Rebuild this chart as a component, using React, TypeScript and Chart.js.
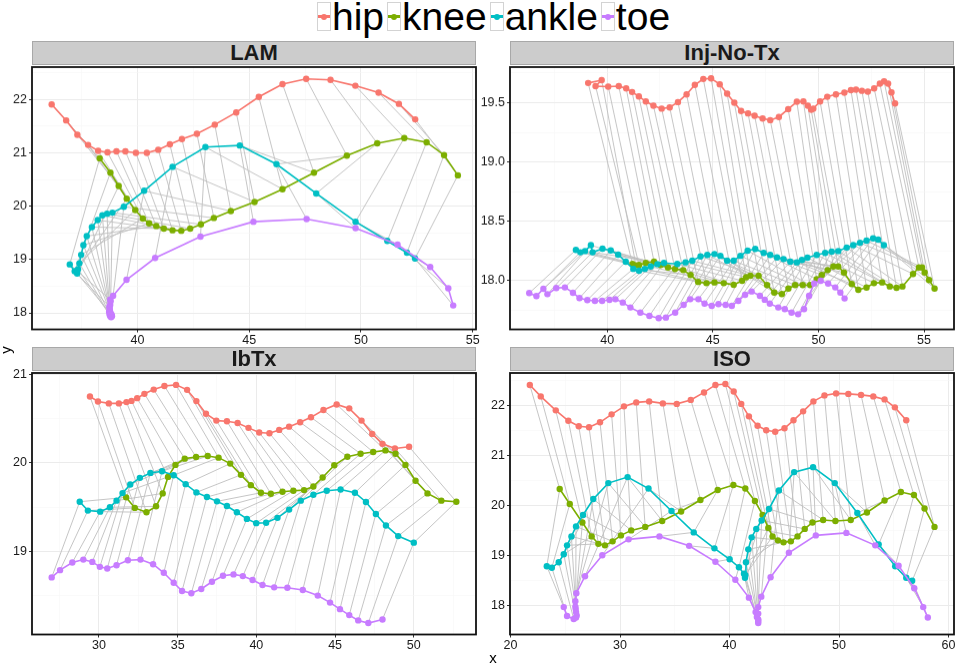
import { useEffect, useRef } from "react";
import { Chart, registerables } from "chart.js";

Chart.register(...registerables);

type Pt = [number, number];

// ── Series ────────────────────────────────────────────────────────────────
const SERIES = ["hip", "knee", "ankle", "toe"];
const COLORS = ["#F8766D", "#7CAE00", "#00BFC4", "#C77CFF"];
const STICK_COLOR = "#BEBEBE";
const FONT = "'Liberation Sans', Arial, Helvetica, sans-serif";

// ── LAM ───────────────────────────────────────────────────────────────────
const LAM_HIP: Pt[] = [
  [36.16, 21.91], [36.81, 21.61], [37.31, 21.34], [37.79, 21.15], [38.24, 21.04], [38.66, 21.01],
  [39.06, 21.03], [39.46, 21.03], [39.93, 21.0], [40.42, 21.0], [40.93, 21.06], [41.45, 21.16],
  [41.99, 21.26], [42.66, 21.36], [43.46, 21.53], [44.42, 21.76], [45.43, 22.05], [46.49, 22.29],
  [47.55, 22.39], [48.64, 22.37], [49.75, 22.26], [50.79, 22.13], [51.7, 21.92], [52.43, 21.63],
];
const LAM_KNEE: Pt[] = [
  [38.31, 20.9], [38.79, 20.63], [39.16, 20.38], [39.52, 20.14], [39.9, 19.93], [40.24, 19.77],
  [40.52, 19.68], [40.84, 19.63], [41.18, 19.58], [41.57, 19.55], [41.96, 19.54], [42.36, 19.58],
  [42.84, 19.66], [43.42, 19.78], [44.18, 19.91], [45.24, 20.08], [46.49, 20.32], [47.9, 20.63],
  [49.37, 20.95], [50.73, 21.18], [51.94, 21.28], [52.94, 21.2], [53.72, 20.96], [54.34, 20.58],
];
const LAM_ANKLE: Pt[] = [
  [36.97, 18.91], [37.19, 18.78], [37.3, 18.74], [37.34, 18.82], [37.4, 18.93], [37.48, 19.09],
  [37.58, 19.27], [37.73, 19.44], [37.96, 19.61], [38.22, 19.74], [38.43, 19.83], [38.64, 19.86],
  [38.88, 19.88], [39.39, 19.99], [40.3, 20.29], [41.57, 20.74], [43.04, 21.11], [44.58, 21.14],
  [46.22, 20.79], [48.0, 20.24], [49.76, 19.71], [51.18, 19.35], [52.06, 19.13], [52.42, 19.02],
];
const LAM_TOE: Pt[] = [
  [38.78, 18.25], [38.74, 18.12], [38.73, 18.02], [38.75, 17.97], [38.78, 17.94], [38.82, 17.92],
  [38.86, 17.94], [38.84, 17.97], [38.8, 17.99], [38.77, 18.03], [38.76, 18.08], [38.78, 18.15],
  [38.8, 18.22], [38.91, 18.32], [39.51, 18.62], [40.79, 19.03], [42.82, 19.43], [45.19, 19.71],
  [47.57, 19.76], [49.76, 19.59], [51.64, 19.28], [53.1, 18.86], [53.91, 18.46], [54.13, 18.14],
];
const LAM_X_RANGE = [35.28, 55.15];
const LAM_Y_RANGE = [17.69, 22.61];
const LAM_X_TICKS = [40, 45, 50, 55];
const LAM_Y_TICKS = [18, 19, 20, 21, 22];

// ── Inj-No-Tx ─────────────────────────────────────────────────────────────
const INJ_HIP: Pt[] = [
  [39.1, 19.666], [39.74, 19.69], [39.45, 19.64], [40.05, 19.635], [40.55, 19.64], [40.9, 19.62],
  [41.18, 19.59], [41.5, 19.553], [41.83, 19.51], [42.19, 19.475], [42.58, 19.45], [42.96, 19.46],
  [43.35, 19.505], [43.76, 19.57], [44.15, 19.65], [44.55, 19.7], [44.92, 19.705], [45.33, 19.655],
  [45.68, 19.576], [46.02, 19.5], [46.34, 19.43], [46.67, 19.41], [46.98, 19.39], [47.36, 19.367],
  [47.72, 19.353], [48.13, 19.38], [48.57, 19.446], [48.98, 19.508], [49.29, 19.51], [49.5, 19.475],
  [49.66, 19.44], [49.76, 19.45], [50.08, 19.51], [50.42, 19.55], [50.83, 19.57], [51.23, 19.585],
  [51.54, 19.606], [51.78, 19.61], [52.06, 19.6], [52.34, 19.593], [52.64, 19.62], [52.91, 19.66],
  [53.11, 19.68], [53.3, 19.66], [53.46, 19.587], [53.63, 19.494],
];
const INJ_KNEE: Pt[] = [
  [41.2, 18.141], [41.36, 18.13], [41.51, 18.133], [41.83, 18.15], [42.22, 18.16], [42.53, 18.133],
  [42.88, 18.112], [43.21, 18.099], [43.6, 18.09], [43.95, 18.048], [44.31, 17.99], [44.7, 17.98],
  [45.08, 17.986], [45.52, 17.98], [45.99, 17.966], [46.39, 18.0], [46.58, 18.03], [46.78, 18.042],
  [47.17, 18.042], [47.57, 17.964], [47.91, 17.9], [48.27, 17.888], [48.58, 17.935], [48.9, 17.964],
  [49.26, 17.964], [49.61, 17.964], [49.92, 18.014], [50.16, 18.048], [50.44, 18.09], [50.71, 18.12],
  [50.94, 18.12], [51.21, 18.07], [51.58, 17.972], [51.89, 17.924], [52.28, 17.943], [52.63, 17.98],
  [53.02, 17.986], [53.38, 17.952], [53.7, 17.941], [53.98, 17.952], [54.48, 18.057], [54.76, 18.112],
  [54.91, 18.112], [55.03, 18.07], [55.24, 18.006], [55.5, 17.935],
];
const INJ_ANKLE: Pt[] = [
  [38.52, 18.26], [38.73, 18.24], [38.95, 18.25], [39.23, 18.3], [39.31, 18.24], [39.78, 18.27],
  [40.17, 18.256], [40.52, 18.22], [40.88, 18.16], [41.24, 18.1], [41.51, 18.084], [41.78, 18.1],
  [42.06, 18.12], [42.38, 18.14], [42.69, 18.15], [43.32, 18.141], [43.71, 18.155], [44.03, 18.169],
  [44.42, 18.205], [44.74, 18.217], [45.08, 18.225], [45.36, 18.21], [45.68, 18.169], [45.99, 18.169],
  [46.31, 18.21], [46.65, 18.253], [47.01, 18.268], [47.41, 18.234], [47.72, 18.217], [48.04, 18.197],
  [48.35, 18.183], [48.67, 18.16], [48.98, 18.155], [49.22, 18.175], [49.48, 18.194], [49.92, 18.217],
  [50.32, 18.234], [50.63, 18.245], [50.94, 18.25], [51.34, 18.28], [51.65, 18.3], [51.97, 18.32],
  [52.28, 18.338], [52.59, 18.357], [52.83, 18.346], [53.1, 18.3],
];
const INJ_TOE: Pt[] = [
  [36.31, 17.896], [36.65, 17.871], [36.98, 17.932], [37.17, 17.887], [37.59, 17.938], [38.0, 17.944],
  [38.38, 17.899], [38.69, 17.854], [39.06, 17.837], [39.42, 17.831], [39.76, 17.831], [40.11, 17.839],
  [40.39, 17.845], [40.74, 17.817], [41.1, 17.775], [41.57, 17.732], [42.0, 17.704], [42.44, 17.685],
  [42.78, 17.69], [43.22, 17.732], [43.62, 17.797], [43.93, 17.845], [44.32, 17.845], [44.61, 17.808],
  [44.95, 17.789], [45.27, 17.803], [45.61, 17.797], [45.9, 17.789], [46.21, 17.831], [46.53, 17.882],
  [46.84, 17.91], [47.23, 17.873], [47.46, 17.84], [47.7, 17.808], [48.1, 17.775], [48.41, 17.761],
  [48.73, 17.732], [49.04, 17.718], [49.32, 17.761], [49.56, 17.873], [49.8, 17.977], [50.11, 18.0],
  [50.46, 17.977], [50.8, 17.944], [51.04, 17.901], [51.24, 17.851],
];
const INJ_X_RANGE = [35.4, 56.42];
const INJ_Y_RANGE = [17.59, 19.8];
const INJ_X_TICKS = [40, 45, 50, 55];
const INJ_Y_TICKS = [18.0, 18.5, 19.0, 19.5];

// ── IbTx ──────────────────────────────────────────────────────────────────
const IBTX_HIP: Pt[] = [
  [29.43, 20.75], [29.94, 20.694], [30.63, 20.672], [31.27, 20.672], [31.75, 20.687], [32.07, 20.7],
  [32.43, 20.731], [32.89, 20.78], [33.48, 20.828], [34.16, 20.869], [34.9, 20.881], [35.6, 20.825],
  [36.19, 20.698], [36.8, 20.556], [37.46, 20.478], [38.13, 20.47], [38.81, 20.451], [39.5, 20.396],
  [40.18, 20.343], [40.83, 20.336], [41.45, 20.373], [42.08, 20.41], [42.78, 20.459], [43.47, 20.515],
  [44.26, 20.597], [45.1, 20.66], [45.9, 20.616], [46.68, 20.478], [47.36, 20.328], [48.01, 20.216],
  [48.8, 20.164], [49.7, 20.183],
];
const IBTX_KNEE: Pt[] = [
  [31.73, 19.612], [32.28, 19.493], [33.02, 19.444], [33.63, 19.511], [34.05, 19.657], [34.39, 19.843],
  [34.86, 19.978], [35.45, 20.049], [36.17, 20.067], [36.91, 20.078], [37.6, 20.06], [38.34, 19.993],
  [39.02, 19.866], [39.65, 19.75], [40.29, 19.664], [40.92, 19.653], [41.66, 19.675], [42.35, 19.687],
  [43.03, 19.694], [43.62, 19.735], [44.21, 19.836], [44.95, 19.974], [45.78, 20.071], [46.62, 20.104],
  [47.42, 20.123], [48.2, 20.142], [48.84, 20.104], [49.47, 19.978], [50.11, 19.799], [50.87, 19.657],
  [51.75, 19.575], [52.7, 19.563],
];
const IBTX_ANKLE: Pt[] = [
  [28.78, 19.563], [29.3, 19.463], [30.08, 19.451], [30.7, 19.5], [31.12, 19.575], [31.5, 19.66],
  [31.99, 19.757], [32.6, 19.832], [33.27, 19.888], [34.01, 19.907], [34.75, 19.862], [35.51, 19.761],
  [36.19, 19.668], [36.86, 19.616], [37.5, 19.567], [38.13, 19.515], [38.76, 19.444], [39.4, 19.369],
  [39.99, 19.321], [40.62, 19.325], [41.34, 19.381], [42.08, 19.474], [42.82, 19.575], [43.62, 19.642],
  [44.47, 19.687], [45.35, 19.701], [46.26, 19.664], [46.96, 19.56], [47.59, 19.425], [48.23, 19.295],
  [49.01, 19.175], [50.0, 19.101],
];
const IBTX_TOE: Pt[] = [
  [27.0, 18.709], [27.53, 18.791], [28.31, 18.877], [29.01, 18.91], [29.58, 18.884], [30.06, 18.828],
  [30.53, 18.81], [31.12, 18.847], [31.84, 18.903], [32.64, 18.91], [33.44, 18.858], [34.12, 18.761],
  [34.75, 18.649], [35.28, 18.556], [35.87, 18.53], [36.5, 18.578], [37.18, 18.66], [37.88, 18.728],
  [38.55, 18.743], [39.14, 18.724], [39.76, 18.679], [40.39, 18.623], [41.13, 18.597], [41.97, 18.593],
  [42.95, 18.567], [43.9, 18.504], [44.68, 18.425], [45.31, 18.351], [45.9, 18.284], [46.47, 18.224],
  [47.11, 18.194], [48.01, 18.235],
];
const IBTX_X_RANGE = [25.75, 53.95];
const IBTX_Y_RANGE = [18.065, 21.015];
const IBTX_X_TICKS = [30, 35, 40, 45, 50];
const IBTX_Y_TICKS = [19, 20, 21];

// ── ISO ───────────────────────────────────────────────────────────────────
const ISO_HIP: Pt[] = [
  [21.76, 22.42], [22.76, 22.19], [24.13, 21.91], [25.28, 21.7], [26.23, 21.59], [27.17, 21.57],
  [28.17, 21.67], [29.23, 21.83], [30.36, 21.99], [31.48, 22.07], [32.66, 22.09], [33.91, 22.05],
  [35.18, 22.04], [36.46, 22.12], [37.67, 22.27], [38.71, 22.42], [39.62, 22.44], [40.38, 22.29],
  [41.07, 22.04], [41.77, 21.79], [42.56, 21.6], [43.35, 21.51], [44.17, 21.48], [45.02, 21.55],
  [45.84, 21.71], [46.72, 21.89], [47.66, 22.09], [48.67, 22.21], [49.73, 22.25], [50.85, 22.24],
  [52.01, 22.22], [53.13, 22.19], [54.16, 22.13], [55.1, 21.97], [56.14, 21.71],
];
const ISO_KNEE: Pt[] = [
  [24.49, 20.33], [25.41, 20.03], [26.56, 19.66], [27.41, 19.38], [28.02, 19.23], [28.62, 19.2],
  [29.32, 19.28], [30.08, 19.4], [31.02, 19.5], [32.3, 19.57], [33.85, 19.69], [35.58, 19.88],
  [37.34, 20.11], [38.92, 20.31], [40.35, 20.41], [41.44, 20.34], [42.32, 20.09], [43.02, 19.81],
  [43.54, 19.55], [43.93, 19.38], [44.42, 19.3], [44.93, 19.26], [45.6, 19.28], [46.21, 19.38],
  [46.87, 19.53], [47.57, 19.66], [48.55, 19.71], [49.67, 19.69], [51.07, 19.71], [52.55, 19.86],
  [54.16, 20.1], [55.65, 20.27], [56.84, 20.21], [57.81, 19.94], [58.72, 19.57],
];
const ISO_ANKLE: Pt[] = [
  [23.31, 18.78], [23.77, 18.75], [24.4, 18.86], [24.86, 19.02], [25.16, 19.2], [25.56, 19.38],
  [25.98, 19.58], [26.62, 19.81], [27.56, 20.13], [28.93, 20.45], [30.69, 20.57], [32.6, 20.34],
  [34.7, 19.89], [36.73, 19.46], [38.62, 19.14], [40.01, 18.92], [40.86, 18.76], [41.32, 18.63],
  [41.41, 18.55], [41.44, 18.6], [41.5, 18.86], [41.71, 19.12], [42.02, 19.36], [42.44, 19.53],
  [42.93, 19.7], [43.6, 19.93], [44.51, 20.3], [45.9, 20.67], [47.63, 20.77], [49.61, 20.45],
  [51.67, 19.85], [53.62, 19.22], [55.13, 18.78], [56.14, 18.55], [56.68, 18.49],
];
const ISO_TOE: Pt[] = [
  [24.86, 17.96], [25.16, 17.78], [25.77, 17.72], [25.98, 17.75], [26.04, 17.79], [25.98, 17.86],
  [25.95, 17.92], [25.92, 17.97], [25.92, 18.08], [26.01, 18.24], [26.8, 18.58], [28.38, 19.0],
  [30.78, 19.32], [33.6, 19.38], [36.31, 19.19], [38.71, 18.87], [40.53, 18.51], [41.77, 18.15],
  [42.38, 17.86], [42.5, 17.76], [42.62, 17.71], [42.62, 17.64], [42.62, 17.68], [42.62, 17.83],
  [42.62, 17.96], [42.9, 18.17], [43.75, 18.56], [45.42, 19.05], [47.88, 19.4], [50.67, 19.45],
  [53.31, 19.2], [55.44, 18.79], [56.87, 18.34], [57.69, 17.96], [58.11, 17.75],
];
const ISO_X_RANGE = [19.95, 60.5];
const ISO_Y_RANGE = [17.41, 22.66];
const ISO_X_TICKS = [20, 30, 40, 50, 60];
const ISO_Y_TICKS = [18, 19, 20, 21, 22];

// ── Layout ────────────────────────────────────────────────────────────────
const AXIS_W = 32; // room left of the plot for y labels
const AXIS_H = 24; // room under the plot for x labels
const PAD_T = 8;
const PAD_R = 14;

interface Box { l: number; t: number; r: number; b: number }
interface PanelDef {
  title: string;
  frames: Pt[][];
  xRange: number[];
  yRange: number[];
  xTicks: number[];
  yTicks: number[];
  yDigits: number;
  box: Box;
}

const PANELS: PanelDef[] = [
  {
    title: "LAM", frames: [LAM_HIP, LAM_KNEE, LAM_ANKLE, LAM_TOE],
    xRange: LAM_X_RANGE, yRange: LAM_Y_RANGE, xTicks: LAM_X_TICKS, yTicks: LAM_Y_TICKS, yDigits: 0,
    box: { l: 32, t: 67, r: 476, b: 328.5 },
  },
  {
    title: "Inj-No-Tx", frames: [INJ_HIP, INJ_KNEE, INJ_ANKLE, INJ_TOE],
    xRange: INJ_X_RANGE, yRange: INJ_Y_RANGE, xTicks: INJ_X_TICKS, yTicks: INJ_Y_TICKS, yDigits: 1,
    box: { l: 510, t: 67, r: 954, b: 328.5 },
  },
  {
    title: "IbTx", frames: [IBTX_HIP, IBTX_KNEE, IBTX_ANKLE, IBTX_TOE],
    xRange: IBTX_X_RANGE, yRange: IBTX_Y_RANGE, xTicks: IBTX_X_TICKS, yTicks: IBTX_Y_TICKS, yDigits: 0,
    box: { l: 32, t: 372.5, r: 476, b: 634 },
  },
  {
    title: "ISO", frames: [ISO_HIP, ISO_KNEE, ISO_ANKLE, ISO_TOE],
    xRange: ISO_X_RANGE, yRange: ISO_Y_RANGE, xTicks: ISO_X_TICKS, yTicks: ISO_Y_TICKS, yDigits: 0,
    box: { l: 510, t: 372.5, r: 954, b: 634 },
  },
];

// box around the plot area, like ggplot's panel border
const panelBorder = {
  id: "panelBorder",
  afterDraw(chart: any) {
    const { ctx, chartArea: a } = chart;
    ctx.save();
    ctx.strokeStyle = "#111111";
    ctx.lineWidth = 1.8;
    ctx.strokeRect(a.left, a.top, a.right - a.left, a.bottom - a.top);
    ctx.restore();
  },
};

function buildAxis(range: number[], major: number[], digits: number, isX: boolean) {
  const step = major[1] - major[0];
  const all: number[] = [];
  for (let v = major[0] - step; v <= major[major.length - 1] + step + 1e-9; v += step / 2) {
    if (v >= range[0] - 1e-9 && v <= range[1] + 1e-9) all.push(+v.toFixed(4));
  }
  const isMajor = (v: any) => typeof v === "number" && major.some((m) => Math.abs(m - v) < 1e-6);
  return {
    type: "linear",
    min: range[0],
    max: range[1],
    afterBuildTicks: (s: any) => {
      s.ticks = all.map((value) => ({ value }));
    },
    afterFit: (s: any) => {
      if (isX) s.height = AXIS_H;
      else s.width = AXIS_W;
      s.paddingLeft = 0;
      s.paddingRight = 0;
      s.paddingTop = 0;
      s.paddingBottom = 0;
    },
    ticks: {
      autoSkip: false,
      maxRotation: 0,
      padding: isX ? 1 : 2,
      color: "#1a1a1a",
      font: { family: FONT, size: 12.5 },
      callback: (v: any) => (isMajor(v) ? Number(v).toFixed(digits) : ""),
    },
    grid: {
      color: (c: any) => (isMajor(c.tick?.value) ? "#EBEBEB" : "#F6F6F6"),
      lineWidth: (c: any) => (isMajor(c.tick?.value) ? 1 : 0.6),
      tickColor: (c: any) => (isMajor(c.tick?.value) ? "#333333" : "rgba(0,0,0,0)"),
      tickWidth: 1,
      tickLength: 3,
      drawTicks: true,
    },
    border: { display: false },
  };
}

// ── Panel ─────────────────────────────────────────────────────────────────
function Panel({ def }: { def: PanelDef }) {
  const canvasRef = useRef<HTMLCanvasElement>(null);
  const { box } = def;
  const plotW = box.r - box.l;
  const plotH = box.b - box.t;

  useEffect(() => {
    if (!canvasRef.current) return;

    // grey stick: hip → knee → ankle → toe for every frame
    const n = Math.min(...def.frames.map((f) => f.length));
    const sticks: { x: number | null; y: number | null }[] = [];
    for (let i = 0; i < n; i++) {
      def.frames.forEach((f) => sticks.push({ x: f[i][0], y: f[i][1] }));
      sticks.push({ x: null, y: null });
    }

    const series = [3, 2, 1, 0].map((k) => ({
      label: SERIES[k],
      data: def.frames[k].map(([x, y]) => ({ x, y })),
      showLine: true,
      borderColor: COLORS[k],
      backgroundColor: COLORS[k],
      borderWidth: 1.6,
      pointRadius: 3.2,
      pointBorderWidth: 0,
      pointHoverRadius: 3.2,
    }));

    const chart = new Chart(canvasRef.current, {
      type: "scatter",
      data: {
        datasets: [
          ...series,
          {
            label: "stick",
            data: sticks,
            showLine: true,
            spanGaps: false,
            borderColor: STICK_COLOR,
            borderWidth: 0.9,
            pointRadius: 0,
            pointHoverRadius: 0,
          },
        ],
      } as any,
      options: {
        animation: false,
        responsive: true,
        maintainAspectRatio: false,
        events: [],
        layout: { padding: { top: PAD_T, right: PAD_R, bottom: 0, left: 0 } },
        plugins: { legend: { display: false }, tooltip: { enabled: false } },
        scales: {
          x: buildAxis(def.xRange, def.xTicks, 0, true),
          y: buildAxis(def.yRange, def.yTicks, def.yDigits, false),
        } as any,
      },
      plugins: [panelBorder],
    });

    return () => {
      chart.destroy();
    };
  }, [def]);

  return (
    <>
      <div
        style={{
          position: "absolute",
          left: box.l,
          top: box.t - 26,
          width: plotW,
          height: 24,
          boxSizing: "border-box",
          background: "#CCCCCC",
          border: "1px solid #A8A8A8",
          fontFamily: FONT,
          fontWeight: 700,
          fontSize: 22,
          lineHeight: "22px",
          textAlign: "center",
          color: "#1a1a1a",
        }}
      >
        {def.title}
      </div>
      <div
        style={{
          position: "absolute",
          left: box.l - AXIS_W,
          top: box.t - PAD_T,
          width: plotW + AXIS_W + PAD_R,
          height: plotH + PAD_T + AXIS_H,
        }}
      >
        <canvas ref={canvasRef} />
      </div>
    </>
  );
}

// ── Page ──────────────────────────────────────────────────────────────────
export default function App() {
  return (
    <div
      style={{
        position: "fixed",
        left: 0,
        top: 0,
        width: 957,
        height: 665,
        overflow: "hidden",
        background: "#fff",
        fontFamily: FONT,
      }}
    >
      {/* Legend */}
      <div style={{ position: "absolute", left: 317, top: 0, display: "flex", alignItems: "flex-start" }}>
        {SERIES.map((s, i) => (
          <div key={s} style={{ display: "flex", alignItems: "flex-start", marginRight: 3 }}>
            <div
              style={{
                position: "relative",
                width: 14,
                height: 29,
                marginTop: 2,
                boxSizing: "border-box",
                border: "1px solid #D3D3D3",
                background: "#fff",
              }}
            >
              <div style={{ position: "absolute", left: 0, right: 0, top: 12, height: 3, background: COLORS[i] }} />
              <div
                style={{
                  position: "absolute",
                  left: 3,
                  top: 10.5,
                  width: 6,
                  height: 6,
                  borderRadius: 3,
                  background: COLORS[i],
                }}
              />
            </div>
            <span style={{ fontSize: 39, lineHeight: "39px", marginTop: -3, marginLeft: 1, color: "#000" }}>{s}</span>
          </div>
        ))}
      </div>

      {PANELS.map((p) => (
        <Panel key={p.title} def={p} />
      ))}

      {/* Axis titles */}
      <div
        style={{
          position: "absolute",
          left: -4,
          top: 340,
          width: 20,
          height: 20,
          fontSize: 15,
          lineHeight: "20px",
          textAlign: "center",
          transform: "rotate(-90deg)",
          color: "#000",
        }}
      >
        y
      </div>
      <div
        style={{
          position: "absolute",
          left: 483,
          top: 648,
          width: 20,
          height: 20,
          fontSize: 15,
          lineHeight: "20px",
          textAlign: "center",
          color: "#000",
        }}
      >
        x
      </div>
    </div>
  );
}
